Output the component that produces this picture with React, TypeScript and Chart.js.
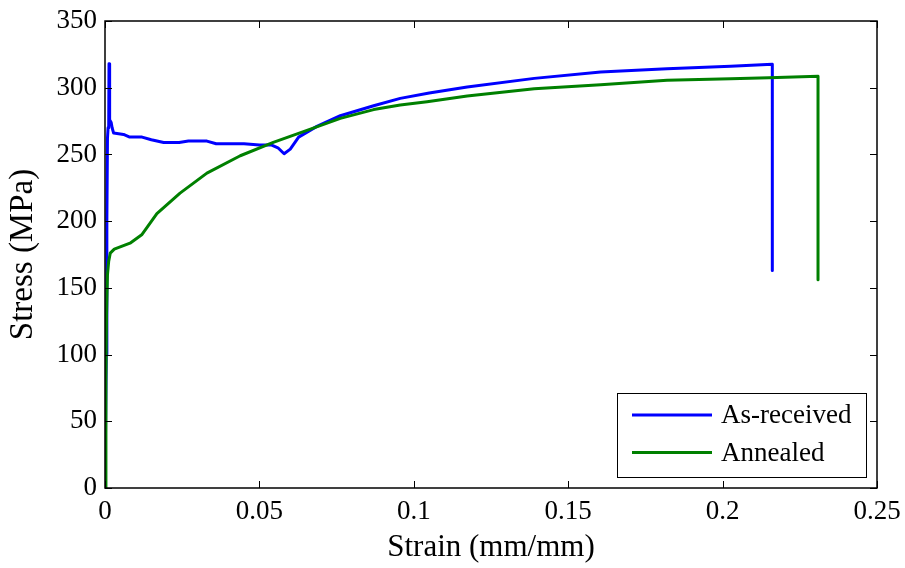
import React, { useEffect, useRef } from "react";
import { Chart, registerables } from "chart.js";

Chart.register(...registerables);

// As-received: strain (mm/mm) and stress (MPa)
const asReceivedStrain = [
  0, 0.0004, 0.0006, 0.0008, 0.001, 0.0012, 0.0013, 0.0015, 0.002, 0.0023, 0.0028,
  0.006, 0.008, 0.012, 0.015, 0.019, 0.024, 0.027, 0.033, 0.036, 0.045, 0.05,
  0.054, 0.056, 0.058, 0.06, 0.0627, 0.0686, 0.0762, 0.087, 0.0956, 0.105,
  0.1173, 0.139, 0.1605, 0.182, 0.2026, 0.2161, 0.2161,
];
const asReceivedStress = [
  0, 100, 200, 262, 270, 272, 318, 276, 274, 270, 266,
  265, 263, 263, 261, 259, 259, 260, 260, 258, 258, 257,
  257, 255, 250.5, 254, 263, 271, 279, 286.5, 292, 296,
  300.5, 307, 311.8, 314.3, 316, 317.5, 163,
];

// Annealed: strain (mm/mm) and stress (MPa)
const annealedStrain = [
  0, 0.0003, 0.0005, 0.0008, 0.0012, 0.0017, 0.003, 0.0081, 0.012, 0.0168, 0.0243,
  0.033, 0.0438, 0.0545, 0.0654, 0.0762, 0.087, 0.0956, 0.1043, 0.1173, 0.139,
  0.1605, 0.182, 0.2026, 0.215, 0.2309, 0.2309,
];
const annealedStress = [
  0, 80, 130, 160, 170, 176, 179, 183.5, 190, 205.6, 221,
  236, 249, 259, 268, 277, 283.6, 287, 289.5, 293.8, 299.3,
  302.3, 305.6, 306.8, 307.5, 308.5, 156,
];

const seriesNames = ["As-received", "Annealed"];
const xTickValues = [0, 0.05, 0.1, 0.15, 0.2, 0.25];
const xTickLabels = ["0", "0.05", "0.1", "0.15", "0.2", "0.25"];
const yTickValues = [0, 50, 100, 150, 200, 250, 300, 350];
const yTickLabels = ["0", "50", "100", "150", "200", "250", "300", "350"];

const FONT = '"Liberation Serif", "Times New Roman", serif';
const BLUE = "#0000ff";
const GREEN = "#008000";

const frameAndLegend = {
  id: "frameAndLegend",
  afterDraw(chart: any) {
    const { ctx, chartArea } = chart;
    const { left, right, top, bottom } = chartArea;
    const xs = chart.scales.x;
    const ys = chart.scales.y;
    ctx.save();
    ctx.strokeStyle = "#000";
    ctx.lineWidth = 1.5;
    ctx.strokeRect(left, top, right - left, bottom - top);
    ctx.lineWidth = 1;
    const tl = 7;
    ctx.beginPath();
    xTickValues.forEach((v) => {
      const px = Math.round(xs.getPixelForValue(v)) + 0.5;
      ctx.moveTo(px, bottom);
      ctx.lineTo(px, bottom - tl);
      ctx.moveTo(px, top);
      ctx.lineTo(px, top + tl);
    });
    yTickValues.forEach((v) => {
      const py = Math.round(ys.getPixelForValue(v)) + 0.5;
      ctx.moveTo(left, py);
      ctx.lineTo(left + tl, py);
      ctx.moveTo(right, py);
      ctx.lineTo(right - tl, py);
    });
    ctx.stroke();

    // legend
    const bw = 249;
    const bh = 84;
    const bx = right - 11 - bw;
    const by = bottom - 11 - bh;
    ctx.fillStyle = "#fff";
    ctx.fillRect(bx, by, bw, bh);
    ctx.lineWidth = 1;
    ctx.strokeStyle = "#000";
    ctx.strokeRect(Math.round(bx) + 0.5, Math.round(by) + 0.5, bw, bh);
    const colors = [BLUE, GREEN];
    ctx.font = `27px ${FONT}`;
    ctx.textBaseline = "middle";
    ctx.textAlign = "left";
    seriesNames.forEach((name, i) => {
      const cy = by + 22 + i * 37.5;
      ctx.strokeStyle = colors[i];
      ctx.lineWidth = 3;
      ctx.beginPath();
      ctx.moveTo(bx + 15, cy);
      ctx.lineTo(bx + 95, cy);
      ctx.stroke();
      ctx.fillStyle = "#000";
      ctx.fillText(name, bx + 104, cy + 1);
    });
    ctx.restore();
  },
};

export default function App() {
  const ref = useRef<HTMLCanvasElement | null>(null);
  useEffect(() => {
    if (!ref.current) return;
    const toPts = (xs: number[], ys: number[]) => xs.map((x, i) => ({ x, y: ys[i] }));
    const chart = new Chart(ref.current, {
      type: "scatter",
      data: {
        datasets: [
          {
            label: seriesNames[0],
            data: toPts(asReceivedStrain, asReceivedStress),
            borderColor: BLUE,
            backgroundColor: BLUE,
            showLine: true,
            borderWidth: 3,
            pointRadius: 0,
            borderJoinStyle: "round",
            borderCapStyle: "round",
            order: 2,
          },
          {
            label: seriesNames[1],
            data: toPts(annealedStrain, annealedStress),
            borderColor: GREEN,
            backgroundColor: GREEN,
            showLine: true,
            borderWidth: 3,
            pointRadius: 0,
            borderJoinStyle: "round",
            borderCapStyle: "round",
            order: 1,
          },
        ],
      },
      options: {
        animation: false,
        responsive: false,
        layout: { padding: { top: 21, right: 28, left: 0, bottom: 0 } },
        plugins: { legend: { display: false }, tooltip: { enabled: false } },
        scales: {
          x: {
            type: "linear",
            min: 0,
            max: 0.25,
            grid: { display: false, drawTicks: false },
            border: { display: false },
            afterBuildTicks: (s: any) => {
              s.ticks = xTickValues.map((v) => ({ value: v }));
            },
            afterFit: (s: any) => {
              s.height = 80;
              s.paddingLeft = 0;
              s.paddingRight = 0;
            },
            ticks: {
              padding: 8,
              maxRotation: 0,
              autoSkip: false,
              color: "#000",
              font: { family: FONT, size: 27 },
              callback: (_v: any, i: number) => xTickLabels[i],
            },
            title: {
              display: true,
              text: "Strain (mm/mm)",
              color: "#000",
              font: { family: FONT, size: 31 },
              padding: { top: 4, bottom: 2 },
            },
          },
          y: {
            type: "linear",
            min: 0,
            max: 350,
            grid: { display: false, drawTicks: false },
            border: { display: false },
            afterBuildTicks: (s: any) => {
              s.ticks = yTickValues.map((v) => ({ value: v }));
            },
            afterFit: (s: any) => {
              s.width = 105;
              s.paddingTop = 0;
              s.paddingBottom = 0;
            },
            ticks: {
              padding: 8,
              autoSkip: false,
              color: "#000",
              font: { family: FONT, size: 27 },
              callback: (_v: any, i: number) => yTickLabels[i],
            },
            title: {
              display: true,
              text: "Stress (MPa)",
              color: "#000",
              font: { family: FONT, size: 33 },
              padding: { top: 4, bottom: 4 },
            },
          },
        },
      },
      plugins: [frameAndLegend],
    });
    return () => chart.destroy();
  }, []);
  return (
    <div style={{ position: "absolute", left: 0, top: 0, width: 905, height: 568, background: "#fff" }}>
      <canvas ref={ref} width={905} height={568} />
    </div>
  );
}
